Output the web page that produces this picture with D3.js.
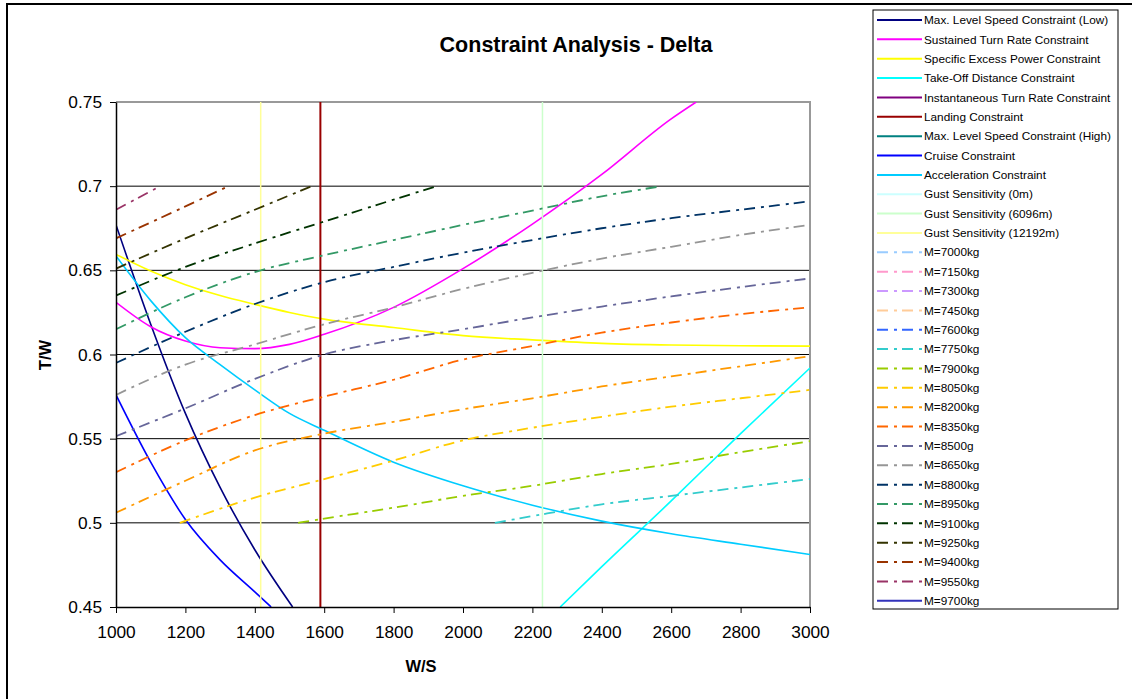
<!DOCTYPE html>
<html>
<head>
<meta charset="utf-8">
<script src="https://cdn.jsdelivr.net/npm/d3@7"></script>
<style>
  body { margin: 0; background: #fff; }
  svg { display: block; font-family: Arial, "Liberation Sans", sans-serif; }
</style>
</head>
<body>
<svg id="chart" width="1132" height="699"></svg>
<script>
  // axis ticks
  const wsTicks = [1000, 1200, 1400, 1600, 1800, 2000, 2200, 2400, 2600, 2800, 3000];
  const twTicks = [0.45, 0.5, 0.55, 0.6, 0.65, 0.7, 0.75];

  // constraint curves, [W/S, T/W]
  const maxSpeedLow = [[1000, 0.677], [1100, 0.618], [1200, 0.565], [1300, 0.521], [1400, 0.484], [1509, 0.45]];
  const sustainedTurn = [[1000, 0.631], [1100, 0.6165], [1200, 0.608], [1300, 0.604], [1400, 0.6035], [1500, 0.606],
    [1600, 0.612], [1800, 0.628], [2000, 0.651], [2200, 0.6775], [2400, 0.707], [2600, 0.740], [2672, 0.75]];
  const excessPower = [[1000, 0.6595], [1100, 0.6496], [1200, 0.6415], [1300, 0.635], [1400, 0.6298], [1500, 0.625],
    [1600, 0.621], [1800, 0.616], [2000, 0.6112], [2200, 0.6087], [2400, 0.6066], [2600, 0.6056], [2800, 0.6052], [3000, 0.605]];
  const takeOff = [[2280, 0.45], [2400, 0.474], [2600, 0.513], [2800, 0.553], [3000, 0.592]];
  const instTurn = [];
  const maxSpeedHigh = [];
  const cruise = [[1000, 0.576], [1100, 0.536], [1200, 0.502], [1300, 0.478], [1400, 0.459], [1447, 0.45]];
  const acceleration = [[1000, 0.6585], [1100, 0.632], [1200, 0.610], [1300, 0.594], [1400, 0.579], [1500, 0.565],
    [1600, 0.555], [1800, 0.536], [2000, 0.522], [2200, 0.5105], [2400, 0.501], [2600, 0.4935], [2800, 0.4873], [3000, 0.4812]];

  // vertical constraints (W/S only)
  const landingWS = [1589];
  const gust0WS = [];
  const gust6096WS = [2229];
  const gust12192WS = [1417];

  // mass lines
  const m7000 = [], m7150 = [], m7300 = [], m7450 = [], m7600 = [];
  const m7750 = [[2092, 0.5], [2200, 0.504], [2400, 0.511], [2600, 0.516], [2800, 0.521], [3000, 0.526]];
  const m7900 = [[1525, 0.5], [1600, 0.5025], [1800, 0.509], [2000, 0.516], [2200, 0.522], [2400, 0.529], [2600, 0.535], [2800, 0.542], [3000, 0.5485]];
  const m8050 = [[1184, 0.5], [1400, 0.515], [1600, 0.526], [1800, 0.537], [2000, 0.549], [2200, 0.5565], [2400, 0.563], [2600, 0.569], [2800, 0.574], [3000, 0.579]];
  const m8200 = [[1000, 0.506], [1200, 0.525], [1400, 0.543], [1600, 0.553], [1800, 0.560], [2000, 0.5675], [2200, 0.574], [2400, 0.581], [2600, 0.587], [2800, 0.593], [3000, 0.599]];
  const m8350 = [[1000, 0.530], [1200, 0.549], [1400, 0.564], [1600, 0.575], [1800, 0.585], [2000, 0.597], [2200, 0.605], [2400, 0.613], [2600, 0.619], [2800, 0.624], [3000, 0.628]];
  const m8500 = [[1000, 0.5515], [1200, 0.568], [1400, 0.5855], [1600, 0.600], [1800, 0.6085], [2000, 0.615], [2200, 0.622], [2400, 0.6285], [2600, 0.6345], [2800, 0.640], [3000, 0.6452]];
  const m8650 = [[1000, 0.576], [1200, 0.594], [1400, 0.606], [1600, 0.618], [1800, 0.628], [2000, 0.639], [2200, 0.6485], [2400, 0.657], [2600, 0.664], [2800, 0.671], [3000, 0.677]];
  const m8800 = [[1000, 0.595], [1200, 0.6135], [1400, 0.630], [1600, 0.643], [1800, 0.652], [2000, 0.6605], [2200, 0.668], [2400, 0.675], [2600, 0.681], [2800, 0.686], [3000, 0.691]];
  const m8950 = [[1000, 0.615], [1200, 0.634], [1400, 0.649], [1600, 0.659], [1800, 0.668], [2000, 0.677], [2200, 0.6855], [2400, 0.694], [2573, 0.7]];
  const m9100 = [[1000, 0.635], [1200, 0.652], [1400, 0.666], [1600, 0.679], [1800, 0.692], [1924, 0.7]];
  const m9250 = [[1000, 0.651], [1200, 0.669], [1400, 0.686], [1564, 0.7]];
  const m9400 = [[1000, 0.669], [1200, 0.688], [1324, 0.7]];
  const m9550 = [[1000, 0.686], [1127, 0.7]];
  const m9700 = [];

  const constraintNames = ["Max. Level Speed Constraint (Low)", "Sustained Turn Rate Constraint", "Specific Excess Power Constraint",
    "Take-Off Distance Constraint", "Instantaneous Turn Rate Constraint", "Landing Constraint", "Max. Level Speed Constraint (High)",
    "Cruise Constraint", "Acceleration Constraint", "Gust Sensitivity (0m)", "Gust Sensitivity (6096m)", "Gust Sensitivity (12192m)"];
  const constraintColors = ["#000080", "#ff00ff", "#ffff00", "#00ffff", "#800080", "#990000", "#008080",
    "#0000ff", "#00ccff", "#ccffff", "#ccffcc", "#ffff99"];
  const constraintCurves = [maxSpeedLow, sustainedTurn, excessPower, takeOff, instTurn, null, maxSpeedHigh,
    cruise, acceleration, null, null, null];
  const constraintVerticals = [null, null, null, null, null, landingWS, null, null, null, gust0WS, gust6096WS, gust12192WS];

  const massNames = ["M=7000kg", "M=7150kg", "M=7300kg", "M=7450kg", "M=7600kg", "M=7750kg", "M=7900kg", "M=8050kg",
    "M=8200kg", "M=8350kg", "M=8500g", "M=8650kg", "M=8800kg", "M=8950kg", "M=9100kg", "M=9250kg", "M=9400kg",
    "M=9550kg", "M=9700kg"];
  const massColors = ["#99ccff", "#ff99cc", "#cc99ff", "#ffcc99", "#3366ff", "#33cccc", "#99cc00", "#ffcc00",
    "#ff9900", "#ff6600", "#666699", "#969696", "#003366", "#339966", "#003300", "#333300", "#993300",
    "#993366", "#3333bb"];
  const massCurves = [m7000, m7150, m7300, m7450, m7600, m7750, m7900, m8050, m8200, m8350, m8500, m8650,
    m8800, m8950, m9100, m9250, m9400, m9550, m9700];

  const svg = d3.select("#chart");
  const plot = { left: 116, right: 810, top: 102, bottom: 607 };

  const x = d3.scaleLinear().domain([1000, 3000]).range([plot.left, plot.right]);
  const y = d3.scaleLinear().domain([0.45, 0.75]).range([plot.bottom, plot.top]);

  // outer chart border
  svg.append("rect")
    .attr("x", 7).attr("y", 4).attr("width", 1200).attr("height", 800)
    .attr("fill", "none").attr("stroke", "#000").attr("stroke-width", 2);

  svg.append("text")
    .attr("x", 576).attr("y", 52)
    .attr("text-anchor", "middle")
    .attr("font-size", 21.5).attr("font-weight", "bold")
    .text("Constraint Analysis - Delta");

  // gridlines
  svg.append("g").selectAll("line")
    .data(twTicks.filter(d => d > 0.45 && d < 0.75))
    .enter().append("line")
      .attr("x1", plot.left).attr("x2", plot.right)
      .attr("y1", d => y(d)).attr("y2", d => y(d))
      .attr("stroke", "#000").attr("stroke-width", 1);

  // plot frame (top & right in grey)
  svg.append("path")
    .attr("d", `M${plot.left},${plot.top}H${plot.right}V${plot.bottom}`)
    .attr("fill", "none").attr("stroke", "#999").attr("stroke-width", 2);

  svg.append("defs").append("clipPath").attr("id", "clip")
    .append("rect")
      .attr("x", plot.left).attr("y", plot.top)
      .attr("width", plot.right - plot.left).attr("height", plot.bottom - plot.top);

  const line = d3.line()
    .x(d => x(d[0]))
    .y(d => y(d[1]))
    .curve(d3.curveMonotoneX);

  const dashDot = "11,6,3,5";
  const series = svg.append("g").attr("clip-path", "url(#clip)");

  // constraints
  constraintNames.forEach((name, i) => {
    if (constraintCurves[i] && constraintCurves[i].length) {
      series.append("path")
        .attr("d", line(constraintCurves[i]))
        .attr("fill", "none")
        .attr("stroke", constraintColors[i])
        .attr("stroke-width", 1.6);
    }
    if (constraintVerticals[i]) {
      series.selectAll(null)
        .data(constraintVerticals[i])
        .enter().append("line")
          .attr("x1", d => x(d)).attr("x2", d => x(d))
          .attr("y1", y(0.45)).attr("y2", y(0.75))
          .attr("stroke", constraintColors[i])
          .attr("stroke-width", i === 5 ? 2 : 1.5);
    }
  });

  // mass lines
  massNames.forEach((name, i) => {
    if (!massCurves[i].length) return;
    series.append("path")
      .attr("d", line(massCurves[i]))
      .attr("fill", "none")
      .attr("stroke", massColors[i])
      .attr("stroke-width", 1.8)
      .attr("stroke-dasharray", i === massNames.length - 1 ? null : dashDot);
  });

  // axes
  const yAxis = svg.append("g")
    .attr("transform", `translate(${plot.left},0)`)
    .call(d3.axisLeft(y).tickValues(twTicks).tickSize(6).tickSizeOuter(0).tickPadding(8)
      .tickFormat(d => String(+d.toFixed(2))));
  const xAxis = svg.append("g")
    .attr("transform", `translate(0,${plot.bottom})`)
    .call(d3.axisBottom(x).tickValues(wsTicks).tickSize(6).tickSizeOuter(0).tickPadding(13)
      .tickFormat(d3.format("d")));

  [yAxis, xAxis].forEach(g => {
    g.selectAll("text").attr("font-size", 17.3).attr("fill", "#000")
      .attr("font-family", "Arial, 'Liberation Sans', sans-serif");
    g.selectAll("line").attr("stroke", "#000");
    g.select(".domain").attr("stroke", "#000").attr("stroke-width", 1.5);
  });

  svg.append("text")
    .attr("transform", "translate(51,355) rotate(-90)")
    .attr("text-anchor", "middle")
    .attr("font-size", 16.5).attr("font-weight", "bold")
    .text("T/W");

  svg.append("text")
    .attr("x", 421).attr("y", 672)
    .attr("text-anchor", "middle")
    .attr("font-size", 16.5).attr("font-weight", "bold")
    .text("W/S");

  // LEGEND
  const legendItems = constraintNames.map((n, i) => ({ name: n, color: constraintColors[i], dash: null }))
    .concat(massNames.map((n, i) => ({ name: n, color: massColors[i], dash: i === massNames.length - 1 ? null : dashDot })));

  const legend = svg.append("g");
  legend.append("rect")
    .attr("x", 873).attr("y", 10).attr("width", 245).attr("height", 599)
    .attr("fill", "#fff").attr("stroke", "#000").attr("stroke-width", 1);

  const rowH = 19.36;
  const rows = legend.selectAll("g.row").data(legendItems)
    .enter().append("g")
      .attr("class", "row")
      .attr("transform", (d, i) => `translate(0,${20 + i * rowH})`);
  rows.append("line")
    .attr("x1", 877).attr("x2", 922)
    .attr("stroke", d => d.color)
    .attr("stroke-width", 2)
    .attr("stroke-dasharray", d => d.dash);
  rows.append("text")
    .attr("x", 924).attr("dy", "0.35em")
    .attr("font-size", 11.8).attr("fill", "#000")
    .text(d => d.name);
</script>
</body>
</html>
